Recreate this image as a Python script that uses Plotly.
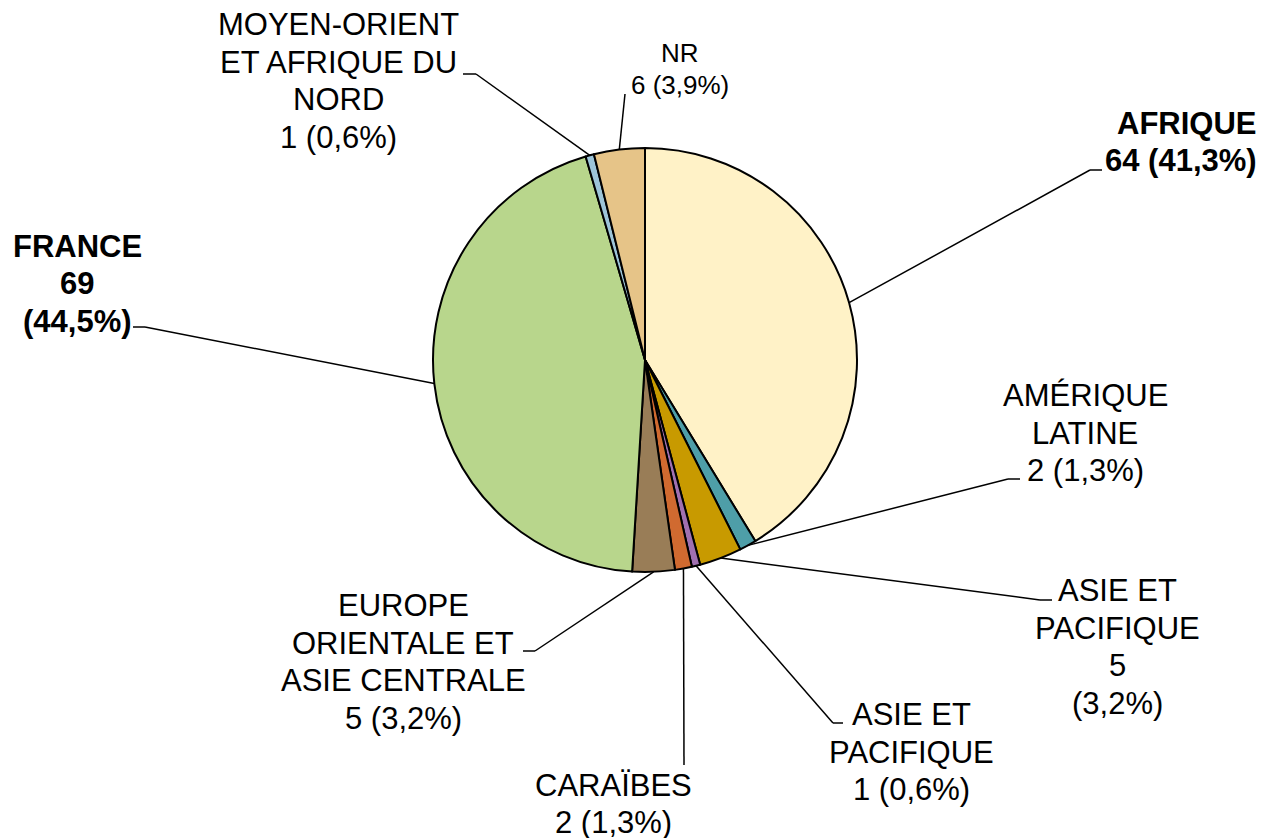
import math
import plotly.graph_objects as go

# Data (clockwise from 12 o'clock)
regions = ["AFRIQUE", "AMÉRIQUE LATINE", "ASIE ET PACIFIQUE (5)", "ASIE ET PACIFIQUE (1)",
           "CARAÏBES", "EUROPE ORIENTALE ET ASIE CENTRALE", "FRANCE",
           "MOYEN-ORIENT ET AFRIQUE DU NORD", "NR"]
counts = [64, 2, 5, 1, 2, 5, 69, 1, 6]
pct_labels = ["41,3%", "1,3%", "3,2%", "0,6%", "1,3%", "3,2%", "44,5%", "0,6%", "3,9%"]
label_lines = [
    ["AFRIQUE", "64 (41,3%)"],
    ["AMÉRIQUE", "LATINE", "2 (1,3%)"],
    ["ASIE ET", "PACIFIQUE", "5", "(3,2%)"],
    ["ASIE ET", "PACIFIQUE", "1 (0,6%)"],
    ["CARAÏBES", "2 (1,3%)"],
    ["EUROPE", "ORIENTALE ET", "ASIE CENTRALE", "5 (3,2%)"],
    ["FRANCE", "69", "(44,5%)"],
    ["MOYEN-ORIENT", "ET AFRIQUE DU", "NORD", "1 (0,6%)"],
    ["NR", "6 (3,9%)"],
]
bold = [True, False, False, False, False, False, True, False, False]
colors = ["#FFF2C7", "#4E9EA8", "#C89A00", "#A070B0", "#D06A30",
          "#997D57", "#B8D68C", "#9DC4D8", "#E6C488"]

W, H = 1265, 838
cx, cy, R = 645, 360, 212

# label layout: (x, y, xanchor, font size), leader elbow points (pixels)
label_pos = [
    (1259, 142, "right", 31),
    (1085, 433, "center", 31),
    (1117, 647, "center", 31),
    (912, 752, "center", 31),
    (613, 804, "center", 31),
    (403, 662, "center", 31),
    (77, 284, "center", 31),
    (338, 81, "center", 31),
    (680, 69, "center", 26),
]
elbows = [
    [(1090, 170), (1102, 170)],
    [(1008, 479), (1020, 479)],
    [(1040, 600), (1052, 600)],
    [(833, 723), (843, 723)],
    [(684, 765)],
    [(535, 651), (523, 651)],
    [(145, 327), (133, 327)],
    [(476, 74), (463, 74)],
    [(625, 94)],
]


def px(x, y):
    return x / W, 1 - y / H


fig = go.Figure()
fig.add_trace(go.Pie(
    labels=regions, values=counts, sort=False, direction="clockwise", rotation=0,
    marker=dict(colors=colors, line=dict(color="black", width=2)),
    textinfo="none", hoverinfo="label+value+percent", showlegend=False,
    domain=dict(x=[(cx - R) / W, (cx + R) / W], y=[1 - (cy + R) / H, 1 - (cy - R) / H]),
))

total = sum(counts)
cum = 0
shapes = []
annotations = []
for i, v in enumerate(counts):
    mid = (cum + v / 2) / total * 2 * math.pi
    cum += v
    pts = [(cx + R * math.sin(mid), cy - R * math.cos(mid))] + elbows[i]
    for (x0, y0), (x1, y1) in zip(pts[:-1], pts[1:]):
        a0, b0 = px(x0, y0)
        a1, b1 = px(x1, y1)
        shapes.append(dict(type="line", xref="paper", yref="paper", x0=a0, y0=b0, x1=a1, y1=b1,
                           line=dict(color="black", width=1.5)))
    lx, ly, xa, fs = label_pos[i]
    lines = label_lines[i]
    step = fs * 1.21
    for k, t in enumerate(lines):
        yk = ly + (k - (len(lines) - 1) / 2) * step
        ax, ay = px(lx, yk)
        annotations.append(dict(x=ax, y=ay, xref="paper", yref="paper",
                                text=f"<b>{t}</b>" if bold[i] else t,
                                showarrow=False, xanchor=xa, yanchor="middle",
                                font=dict(family="Liberation Sans, Arial", size=fs, color="black")))

fig.update_layout(width=W, height=H, margin=dict(l=0, r=0, t=0, b=0),
                  paper_bgcolor="white", plot_bgcolor="white",
                  shapes=shapes, annotations=annotations)
fig.write_html("out.html", config={"displayModeBar": False},
               post_script="document.body.style.margin='0';")
